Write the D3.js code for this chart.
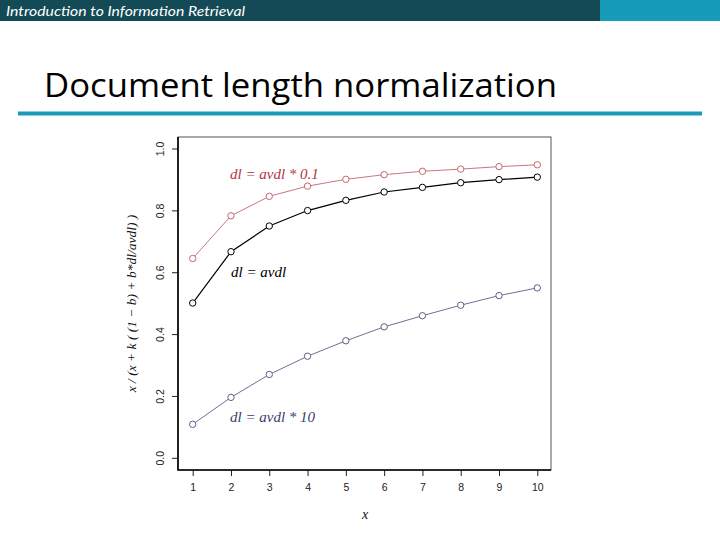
<!DOCTYPE html>
<html><head><meta charset="utf-8">
<script src="https://cdn.jsdelivr.net/npm/d3@7"></script>
<style>
html,body{margin:0;padding:0;background:#fff;}
svg{display:block;}
</style></head>
<body>
<svg id="c" width="720" height="540"></svg>
<script>
// ---- data ----
const xValues = [1,2,3,4,5,6,7,8,9,10];
const seriesNames = ["dl = avdl * 0.1", "dl = avdl", "dl = avdl * 10"];
const valsShort = [0.646,0.784,0.847,0.880,0.902,0.917,0.928,0.935,0.943,0.949]; // dl = avdl*0.1
const valsAvg   = [0.502,0.668,0.751,0.801,0.834,0.861,0.876,0.891,0.901,0.909]; // dl = avdl
const valsLong  = [0.110,0.197,0.271,0.330,0.380,0.425,0.461,0.495,0.526,0.551]; // dl = avdl*10
const yTicks = [0.0,0.2,0.4,0.6,0.8,1.0];
const xTicks = [1,2,3,4,5,6,7,8,9,10];
const headerText = "Introduction to Information Retrieval";
const titleText = "Document length normalization";
const yLabel = "x / (x + k ( (1 \u2212 b) + b*dl/avdl) )";
const xLabel = "x";

const svg = d3.select("#c");

// header
svg.append("rect").attr("x",0).attr("y",0).attr("width",600).attr("height",21).attr("fill","#134a55");
svg.append("rect").attr("x",600).attr("y",0).attr("width",120).attr("height",21).attr("fill","#169bb8");
svg.append("text").attr("x",6).attr("y",15.5).attr("fill","#fff")
  .attr("font-family","Lato, 'Open Sans', sans-serif").attr("font-style","italic").attr("font-size",14)
  .attr("textLength",239).attr("lengthAdjust","spacingAndGlyphs")
  .text(headerText);

// title
svg.append("text").attr("x",44).attr("y",97).attr("fill","#000")
  .attr("font-family","'Open Sans', Lato, sans-serif").attr("font-size",33)
  .attr("textLength",513).attr("lengthAdjust","spacingAndGlyphs")
  .text(titleText);
svg.append("rect").attr("x",18).attr("y",111.5).attr("width",684).attr("height",4).attr("fill","#1a9cb8");

// plot region
const box = {l:178, r:551, t:137, b:470};
const x = d3.scaleLinear().domain([1,10]).range([192.7,537.3]);
const y = d3.scaleLinear().domain([0,1]).range([458.3,149]);

// axes
const gy = svg.append("g").attr("transform",`translate(${box.l},0)`)
  .call(d3.axisLeft(y).tickValues(yTicks).tickFormat(d3.format(".1f")).tickSize(6).tickPadding(4));
gy.select(".domain").remove();
gy.selectAll(".tick").attr("transform",null);
gy.selectAll(".tick line").attr("stroke","#222").attr("y1",d=>y(d)).attr("y2",d=>y(d));
gy.selectAll(".tick text").attr("font-family","'Liberation Sans', Arial, sans-serif").attr("font-size",10.5)
  .attr("fill","#222").attr("text-anchor","middle")
  .attr("x",-18).attr("y",d=>y(d)).attr("dy","0.35em")
  .attr("transform", d => `rotate(-90, -18, ${y(d)})`);

const gx = svg.append("g").attr("transform",`translate(0,${box.b})`)
  .call(d3.axisBottom(x).tickValues(xTicks).tickFormat(d3.format("d")).tickSize(6).tickPadding(8));
gx.select(".domain").remove();
gx.selectAll("line").attr("stroke","#222");
gx.selectAll("text").attr("font-family","'Liberation Sans', Arial, sans-serif").attr("font-size",10.5).attr("fill","#222");

// box
svg.append("rect").attr("x",box.l).attr("y",box.t).attr("width",box.r-box.l).attr("height",box.b-box.t)
  .attr("fill","none").attr("stroke","#555").attr("stroke-width",1);
svg.append("path").attr("d",`M${box.l},${box.t}V${box.b}H${box.r}`).attr("fill","none").attr("stroke","#000").attr("stroke-width",1.6);

// series
const series = [
  {name:seriesNames[0], vals:valsShort, line:"#c46670", text:"#b3344a", lw:0.9, lx:230, ly:179},
  {name:seriesNames[1], vals:valsAvg,   line:"#000",    text:"#000",    lw:1.2, lx:231, ly:277},
  {name:seriesNames[2], vals:valsLong,  line:"#5c6088", text:"#3c406c", lw:0.9, lx:230, ly:422}
];
const line = d3.line().x((d,i)=>x(xValues[i])).y(d=>y(d));
series.forEach(s=>{
  svg.append("path").datum(s.vals).attr("d",line).attr("fill","none")
    .attr("stroke",s.line).attr("stroke-width",s.lw);
  svg.selectAll(null).data(s.vals).enter().append("circle")
    .attr("cx",(d,i)=>x(xValues[i])).attr("cy",d=>y(d)).attr("r",3.2)
    .attr("fill","#fff").attr("stroke",s.line).attr("stroke-width",1);
  svg.append("text").attr("x",s.lx).attr("y",s.ly).attr("fill",s.text)
    .attr("font-family","'Liberation Serif', 'DejaVu Serif', serif").attr("font-style","italic").attr("font-size",15)
    .text(s.name);
});

// axis labels
svg.append("text").attr("transform",`translate(136,${(box.t+box.b)/2}) rotate(-90)`)
  .attr("text-anchor","middle").attr("fill","#111")
  .attr("font-family","'Liberation Serif', 'DejaVu Serif', serif").attr("font-style","italic").attr("font-size",13.5)
  .text(yLabel);
svg.append("text").attr("x",365).attr("y",519).attr("text-anchor","middle").attr("fill","#111")
  .attr("font-family","'Liberation Serif', 'DejaVu Serif', serif").attr("font-style","italic").attr("font-size",14)
  .text(xLabel);
</script>
</body></html>
